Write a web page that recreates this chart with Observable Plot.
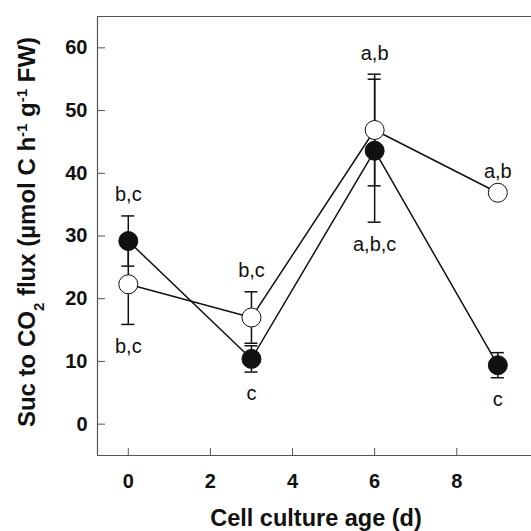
<!DOCTYPE html>
<html><head><meta charset="utf-8">
<script src="https://cdn.jsdelivr.net/npm/d3@7"></script>
<script src="https://cdn.jsdelivr.net/npm/@observablehq/plot@0.6"></script>
<style>
body{margin:0;background:#fff;}
#chart svg{display:block;font-family:"Liberation Sans",Arial,sans-serif;}
</style>
</head><body><div id="chart"></div>
<script>
const days = [0, 3, 6, 9];
const filledMean = [29.2, 10.4, 43.6, 9.4];
const filledErr = [4.0, 2.1, 11.4, 2.0];
const openMean = [22.3, 17.0, 46.9, 36.9];
const openErr = [6.4, 4.1, 8.9, 0];
const labelsAbove = ["b,c", "b,c", "a,b", "a,b"];
const labelsBelow = ["b,c", "c", "a,b,c", "c"];
const xTicks = [0, 2, 4, 6, 8];
const yTicks = [0, 10, 20, 30, 40, 50, 60];
const xDomain = [-0.75, 9.82];
const yDomain = [-5, 65];
const xTitle = "Cell culture age (d)";

const rows = [];
days.forEach((d, i) => {
  rows.push({series: "open", day: d, mean: openMean[i], err: openErr[i]});
  rows.push({series: "filled", day: d, mean: filledMean[i], err: filledErr[i]});
});
const openRows = rows.filter(r => r.series === "open");
const filledRows = rows.filter(r => r.series === "filled");
const ann = days.map((d, i) => ({
  day: d,
  top: Math.max(openMean[i] + openErr[i], filledMean[i] + filledErr[i]),
  bottom: Math.min(openMean[i] - openErr[i], filledMean[i] - filledErr[i]),
  above: labelsAbove[i],
  below: labelsBelow[i]
}));

const frameColor = "#555";
const plot = Plot.plot({
  width: 531,
  height: 531,
  marginLeft: 97,
  marginTop: 16,
  marginBottom: 76,
  marginRight: 0,
  style: {background: "transparent", fontFamily: "Liberation Sans, Arial, sans-serif"},
  x: {domain: xDomain},
  y: {domain: yDomain},
  marks: [
    Plot.ruleX([xDomain[0]], {stroke: frameColor, strokeWidth: 1.2}),
    Plot.ruleY([yDomain[0], yDomain[1]], {stroke: frameColor, strokeWidth: 1.2}),
    Plot.axisY(yTicks, {tickSize: -8, tickPadding: 18, stroke: frameColor, fill: "#111", fontSize: 20, fontWeight: "bold", label: null}),
    Plot.axisX(xTicks, {tickSize: -7, tickPadding: 25, stroke: frameColor, fill: "#111", fontSize: 20, fontWeight: "bold", label: null}),
    Plot.line(rows, {x: "day", y: "mean", z: "series", stroke: "#111", strokeWidth: 1.5}),
    Plot.ruleX(rows, {x: "day", y1: d => d.mean - d.err, y2: d => d.mean + d.err, stroke: "#111", strokeWidth: 1.5}),
    Plot.ruleY(rows.filter(r => r.err > 0), {y: d => d.mean + d.err, x1: "day", x2: "day", insetLeft: -6.5, insetRight: -6.5, stroke: "#111", strokeWidth: 1.5}),
    Plot.ruleY(rows.filter(r => r.err > 0), {y: d => d.mean - d.err, x1: "day", x2: "day", insetLeft: -6.5, insetRight: -6.5, stroke: "#111", strokeWidth: 1.5}),
    Plot.dot(openRows, {x: "day", y: "mean", r: 9.5, fill: "white", stroke: "#111", strokeWidth: 1}),
    Plot.dot(filledRows, {x: "day", y: "mean", r: 9.5, fill: "#111", stroke: "#111", strokeWidth: 1}),
    Plot.text(ann, {x: "day", y: "top", text: "above", dy: -21, fontSize: 20, fill: "#111"}),
    Plot.text(ann, {x: "day", y: "bottom", text: "below", dy: 22, fontSize: 20, fill: "#111"})
  ]
});

document.getElementById("chart").appendChild(plot);

const svg = d3.select(plot);
// X axis title
svg.append("text")
  .attr("x", 316)
  .attr("y", 526)
  .attr("text-anchor", "middle")
  .attr("font-size", 23.5)
  .attr("font-weight", "bold")
  .attr("fill", "#111")
  .text(xTitle);
// Y axis title with sub/superscripts
const yt = svg.append("text")
  .attr("transform", "translate(35,232) rotate(-90)")
  .attr("text-anchor", "middle")
  .attr("font-size", 24)
  .attr("font-weight", "bold")
  .attr("fill", "#111");
const parts = [
  ["Suc to CO", 0], ["2", -1], [" flux (µmol C h", 0], ["-1", 1], [" g", 0], ["-1", 1], [" FW)", 0]
];
parts.forEach(([t, s]) => {
  const ts = yt.append("tspan").text(t);
  if (s !== 0) {
    ts.attr("font-size", 15).attr("baseline-shift", s > 0 ? "super" : "sub");
  }
});
</script>
</body></html>
